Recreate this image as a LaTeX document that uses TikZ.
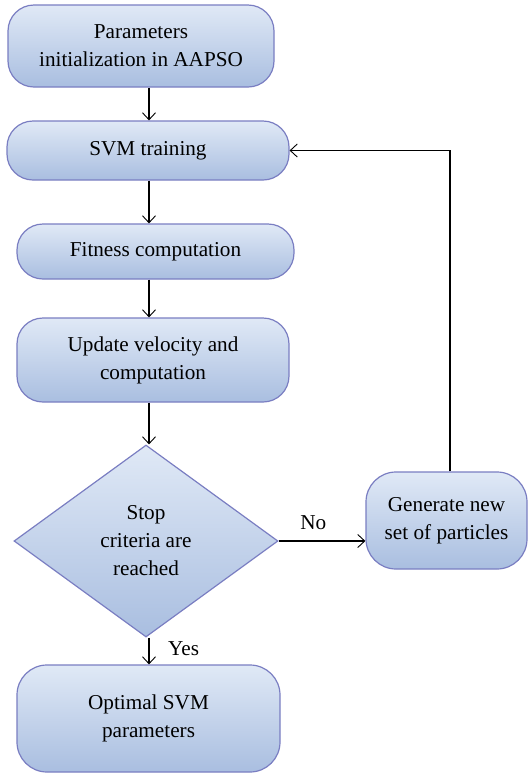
\documentclass[tikz,border=0pt]{standalone}
\usepackage{fontspec}
\setmainfont{Liberation Serif}
\usetikzlibrary{shapes.geometric,arrows.meta}

\definecolor{boxtop}{HTML}{E0E9F6}
\definecolor{boxbot}{HTML}{A9BEE0}
\definecolor{boxline}{HTML}{7A7EC2}

\tikzstyle{block} = [align=center, draw=boxline, line width=0.6pt, top color=boxtop, bottom color=boxbot, rectangle, rounded corners=13pt, inner sep=0pt]
\tikzstyle{decision} = [align=center, draw=boxline, line width=0.6pt, top color=boxtop, bottom color=boxbot, diamond, inner sep=0pt]

\begin{document}
\begin{tikzpicture}[x=0.5pt,y=-0.5pt,>={Straight Barb[length=3.5pt,width=6.5pt,line width=0.45pt]},line width=0.55pt,font=\fontsize{10.6}{14}\selectfont]
            %
            \useasboundingbox (0,0) rectangle (530,773);
            % We start by placing the blocks
            \node [block, minimum width=133pt, minimum height=41pt] (init) at (141,46) {Parameters\\initialization in AAPSO};
            \node [block, minimum width=141pt, minimum height=29.5pt] (train) at (148,150.5) {SVM training};
            \node [block, minimum width=138.5pt, minimum height=27.5pt] (fitness) at (155.5,251.5) {Fitness computation};
            \node [block, minimum width=136pt, minimum height=42pt] (update) at (153,360) {Update velocity and\\computation};
            \node [decision, minimum width=132pt, minimum height=96pt] (stop) at (146,541) {Stop\\criteria are\\reached};
            \node [block, minimum width=80.5pt, minimum height=48.5pt, rounded corners=15pt] (gen) at (446.5,520.5) {Generate new\\set of particles};
            \node [block, minimum width=131.5pt, minimum height=53.5pt, rounded corners=15pt] (opt) at (148.5,718.5) {Optimal SVM\\parameters};
            % the main column of arrows
            \coordinate (axis) at (149,0);
            \coordinate (back) at (450,0);
            \draw [->] (axis |- init.south) -- (axis |- train.north);
            \draw [->] (axis |- train.south) -- (axis |- fitness.north);
            \draw [->] (axis |- fitness.south) -- (axis |- update.north);
            \draw [->] (axis |- update.south) -- (axis |- stop.north);
            \draw [->] (axis |- stop.south) -- node[right=6pt, pos=0.4] {Yes} (axis |- opt.north);
            % loop back
            \draw [->] (stop.east) -- node[above=2pt, pos=0.4] {No} (stop.east -| gen.west);
            \draw [->] (back |- gen.north) |- (train.east);
            %
        \end{tikzpicture}
\end{document}
